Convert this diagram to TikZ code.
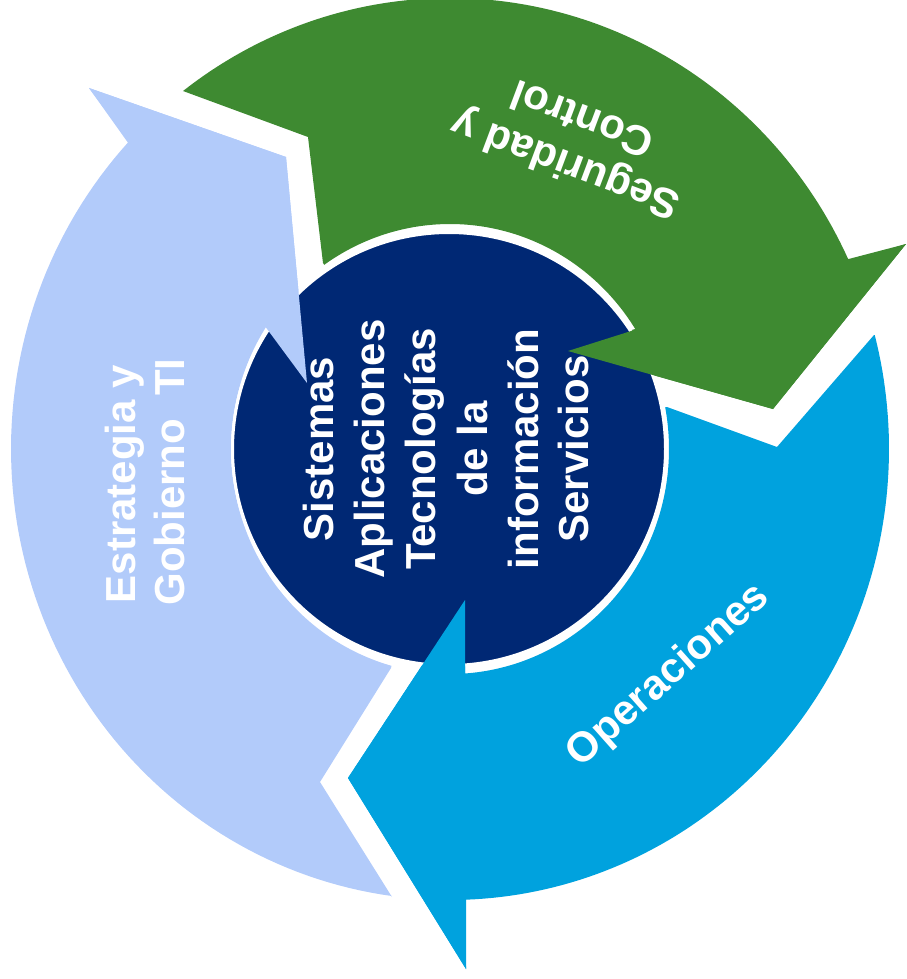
\documentclass[tikz,border=0pt]{standalone}
\usepackage{fontspec}
\setmainfont{Liberation Sans}
\definecolor{lbcol}{RGB}{178,203,250}
\definecolor{grcol}{RGB}{62,138,49}
\definecolor{cycol}{RGB}{0,162,222}
\definecolor{nvcol}{RGB}{0,40,116}
\tikzset{
  lbl/.style={text=white, font=\fontsize{42}{50}\selectfont\bfseries, inner sep=0pt, anchor=base},
  ell/.style={samples=90, variable=\t}
}
\begin{document}
\begin{tikzpicture}[x=1pt,y=-1pt]
\useasboundingbox (0,0) rectangle (906,979);
% light blue arrow
\fill[lbcol] (391,668) -- (320,782) -- (392,897)
  -- plot[ell,domain=97.6:222.8] ({450+439*cos(\t)},{449+451*sin(\t)})
  -- (89,88) -- (286,157) -- (307,383) -- (267,327)
  -- plot[ell,domain=213.0:105.5] ({450+219*cos(\t)},{449+225*sin(\t)}) -- cycle;
% green arrow
\fill[grcol] (323,263) -- (308,137) -- (183,91)
  -- plot[ell,domain=232.5:335.1] ({450+439*cos(\t)},{449+451*sin(\t)})
  -- (906,244) -- (773,409) -- (568,351) -- (635,329)
  -- plot[ell,domain=327.7:234.95] ({450+219*cos(\t)},{449+225*sin(\t)}) -- cycle;
% cyan arrow
\fill[cycol] (667,407) -- (777,447) -- (874,335)
  -- plot[ell,domain=-14.64:87.9] ({450+439*cos(\t)},{449+451*sin(\t)})
  -- (466,969) -- (348,778) -- (465,600) -- (465,673)
  -- plot[ell,domain=86.1:-10.67] ({450+219*cos(\t)},{449+225*sin(\t)}) -- cycle;
% centre circle
\draw[fill=nvcol, draw=white, line width=3pt] (449,449) circle[radius=216.5pt];
% arrowheads over the circle
\fill[lbcol] (89,88) -- (286,157) -- (307,383) -- cycle;
\fill[grcol] (906,244) -- (773,409) -- (568,351) -- cycle;
\fill[cycol] (466,969) -- (348,778) -- (465,600) -- cycle;
% centre text
\node[lbl, rotate=90] (c1) at (333,449) {Sistemas};
\node[lbl, rotate=90] (c2) at (384,449) {Aplicaciones};
\node[lbl, rotate=90] (c3) at (435,449) {Tecnologías};
\node[lbl, rotate=90] (c4) at (487,449) {de la};
\node[lbl, rotate=90] (c5) at (538,449) {información};
\node[lbl, rotate=90] (c6) at (588,449) {Servicios};
% arrow labels
\node[lbl, rotate=90] (e1) at (135,484) {Estrategia y};
\node[lbl, rotate=90] (e2) at (184,482) {Gobierno\ \ TI};
\node[lbl, rotate=159.4] (s1) at (570,152) {Seguridad y};
\node[lbl, rotate=159.4] (s2) at (587,106) {Control};
\node[lbl, rotate=41.6] (o1) at (676,684) {Operaciones};
\end{tikzpicture}
\end{document}
